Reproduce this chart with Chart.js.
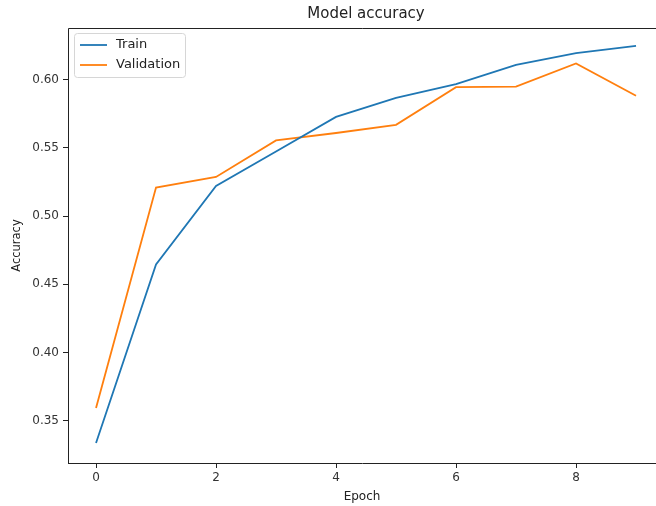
<!DOCTYPE html>
<html>
<head>
<meta charset="utf-8">
<script src="https://cdn.jsdelivr.net/npm/chart.js@4"></script>
<style>
  html, body { margin: 0; padding: 0; background: #fff; }
  #wrap { width: 656px; height: 506px; }
</style>
</head>
<body>
<div id="wrap"><canvas id="myChart" width="656" height="506"></canvas></div>
<script>
const epochs = [0, 1, 2, 3, 4, 5, 6, 7, 8, 9];
const trainAcc = [0.3337, 0.4646, 0.5222, 0.5475, 0.5728, 0.5868, 0.5969, 0.6110, 0.6195, 0.6249];
const valAcc = [0.3593, 0.5210, 0.5288, 0.5556, 0.5610, 0.5670, 0.5946, 0.5950, 0.6120, 0.5883];
const seriesNames = ["Train", "Validation"];
const seriesColors = ["#1f77b4", "#ff7f0e"];

const FONT = "'DejaVu Sans', sans-serif";

// matplotlib-like frame, title and legend inside the axes
const mplDecor = {
  id: "mplDecor",
  afterDraw(chart) {
    const ctx = chart.ctx;
    const a = chart.chartArea;
    ctx.save();
    ctx.strokeStyle = "#222";
    ctx.lineWidth = 1;
    ctx.beginPath();
    ctx.moveTo(a.left + 0.5, a.bottom + 0.5);
    ctx.lineTo(a.left + 0.5, a.top + 0.5);
    ctx.lineTo(a.right + 8, a.top + 0.5);
    ctx.moveTo(a.left, a.bottom + 0.5);
    ctx.lineTo(a.right + 8, a.bottom + 0.5);
    ctx.stroke();

    ctx.fillStyle = "#222";
    ctx.font = "15px " + FONT;
    ctx.textAlign = "center";
    ctx.textBaseline = "middle";
    ctx.fillText("Model accuracy", 366, 14);

    // legend box
    const bx = 74, by = 33, bw = 111, bh = 44;
    ctx.fillStyle = "rgba(255,255,255,0.85)";
    ctx.strokeStyle = "#d6d6d6";
    ctx.beginPath();
    ctx.roundRect(bx + 0.5, by + 0.5, bw, bh, 3);
    ctx.fill();
    ctx.stroke();
    ctx.font = "13px " + FONT;
    ctx.textAlign = "left";
    chart.data.datasets.forEach((ds, i) => {
      const y = by + 12 + i * 20;
      ctx.strokeStyle = ds.borderColor;
      ctx.lineWidth = 1.8;
      ctx.beginPath();
      ctx.moveTo(bx + 6, y);
      ctx.lineTo(bx + 33, y);
      ctx.stroke();
      ctx.fillStyle = "#222";
      ctx.fillText(ds.label, bx + 42, y);
    });
    ctx.restore();
  }
};

const chart = new Chart(document.getElementById("myChart").getContext("2d"), {
  type: "line",
  data: {
    datasets: [
      {
        label: seriesNames[0],
        data: epochs.map((e, i) => ({ x: e, y: trainAcc[i] })),
        borderColor: seriesColors[0],
        borderWidth: 1.8,
        pointRadius: 0,
        tension: 0,
        fill: false,
      },
      {
        label: seriesNames[1],
        data: epochs.map((e, i) => ({ x: e, y: valAcc[i] })),
        borderColor: seriesColors[1],
        borderWidth: 1.8,
        pointRadius: 0,
        tension: 0,
        fill: false,
      },
    ],
  },
  options: {
    responsive: false,
    animation: false,
    layout: { padding: { top: 28, right: 0, left: 0, bottom: 0 } },
    plugins: {
      legend: { display: false },
      title: { display: false },
      tooltip: { enabled: false },
    },
    scales: {
      x: {
        type: "linear",
        min: -0.467,
        max: 9.333,
        border: { display: false },
        grid: { display: true, drawOnChartArea: false, drawTicks: true, tickLength: 5, color: "#222" },
        ticks: {
          stepSize: 2,
          includeBounds: false,
          color: "#333",
          font: { family: FONT, size: 12 },
          padding: 3,
          maxRotation: 0,
        },
        title: {
          display: true,
          text: "Epoch",
          color: "#222",
          font: { family: FONT, size: 12 },
          padding: { top: 0, bottom: 2 },
        },
        afterFit(scale) { scale.height = 43; },
      },
      y: {
        type: "linear",
        min: 0.319,
        max: 0.638,
        border: { display: false },
        grid: { display: true, drawOnChartArea: false, drawTicks: true, tickLength: 5, color: "#222" },
        ticks: {
          stepSize: 0.05,
          includeBounds: false,
          color: "#333",
          font: { family: FONT, size: 12 },
          padding: 4,
          callback: (v) => v.toFixed(2),
        },
        title: {
          display: true,
          text: "Accuracy",
          color: "#222",
          font: { family: FONT, size: 11.5 },
          padding: { top: 10, bottom: 0 },
        },
        afterFit(scale) { scale.width = 68; },
      },
    },
  },
  plugins: [mplDecor],
});
</script>
</body>
</html>
